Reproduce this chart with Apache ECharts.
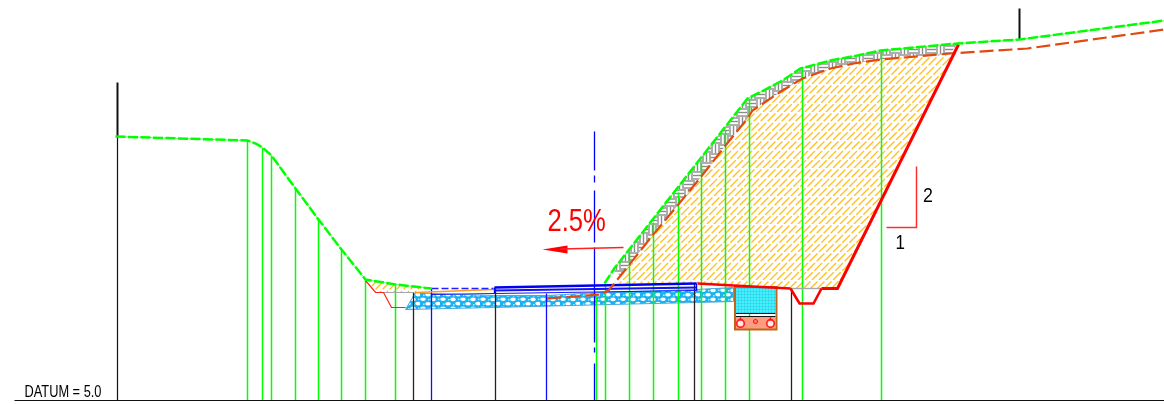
<!DOCTYPE html>
<html><head><meta charset="utf-8">
<style>html,body{margin:0;padding:0;background:#fff}#c{width:1164px;height:404px}</style>
<script src="https://cdn.jsdelivr.net/npm/echarts@6/dist/echarts.min.js"></script>
</head><body><div id="c"></div>
<script>
// Cross-section values: [offset, height above the datum line]
const groundLeft = [[115,264],[247,260],[255,257],[262,253],[271,245],[295,212],[318,181],[341,151],[365,121],[395,116],[431,112]];
const groundRight = [[604,117],[613,131],[747,302],[763,310],[782,320],[800,332],[830,340],[857,345],[880,350],[957,357],[1019,361],[1164,380]];
const stripLine = [[547,102],[600,106],[608,110],[625,131],[652,165],[677,195],[700,223],[725,255],[747,282],[752,290],[782,310],[802,322],[830,332],[853,337],[880,341],[950,347],[1027,352],[1164,371]];
const stripArea = [[612,130],[747,302],[763,310],[782,320],[800,332],[830,340],[857,345],[880,350],[957,357],[950,347],[880,341],[853,337],[830,332],[802,322],[782,310],[752,290],[747,282],[725,255],[700,223],[677,195],[652,165],[625,131],[620,125]];
const fillArea = [[615,117],[625,131],[652,165],[677,195],[700,223],[725,255],[747,282],[752,290],[782,310],[802,322],[830,332],[853,337],[880,341],[953,347],[837,112],[790,112],[733,115],[697,117]];
const fillAreaLeft = [[367,120],[431,112],[415,108],[376,108]];
const cutSlope = [[958,356],[837,112],[821,112],[813,97],[799,97],[790,112]];
const roadEdge = [[697,117],[733,115],[790,112]];
const ditchLeft = [[365,120],[375,108],[383,108],[391,93],[405,93]];
const ditchTopLeft = [[375,108],[413,108]];
const ditchTopRight = [[790,112],[821,112]];
const subbase = [[405,91],[415,108],[431,107],[493,105],[547,105],[600,108],[696,111],[733,113],[733,99],[696,98],[610,96],[493,93]];
const shoulderLine = [[415,108],[493,111]];
const shoulderDash = [[431,112],[493,112]];
const pavementTop = [[494,113],[696,117]];
const pavementMid = [[494,110],[696,113]];
const pavementLow = [[431,106],[494,107],[696,110]];
const pavementEnds = [[[494,113],[494,107]],[[696,117],[696,110]]];
const greenStations = [[247,260],[262,253],[271,245],[295,212],[318,181],[341,151],[365,120],[395,115],[596,104],[605,117],[629,148],[653,178],[678,208],[701,237],[725,270],[749,302],[802,333],[881,350]];
const blackStations = [[413,108],[495,112],[694,117],[791,112]];
const blueStations = [[431,112],[546,107]];
const centreX = 594;
const centreSpans = [[269,230],[225,218],[210,158],[153,58],[53,48],[37,0]];
const datumLine = [[14,0],[1164,0]];
const leftPost = [[117,318],[117,264]];
const leftPostLower = [[117,264],[117,0]];
const rightPost = [[1019,392],[1019,361]];
const arrowShaft = [[623,153],[560,151.5]];
const arrowHead = [[542,151],[567,155],[567,147]];
const slopeMark = [[886,173],[916,173],[916,234]];
const ductWater = [[735,113],[775,113],[775,87],[735,87]];
const ductBase = [[735,84],[775,84],[775,71],[735,71]];
const ductFrame = [[734.5,113.5],[776,113.5],[776,71],[734.5,71]];
const ductLines = [[[735,113],[775,113]],[[735,87],[775,87]],[[735,84],[775,84]]];
const pipesLarge = [[740,77],[770,77]];
const pipesSmall = [[755,79]];
const pipeStems = [[[740,83],[740,79]],[[770,83],[770,79]]];
const textRows = [
  {text:'2.5%', x:547, h:178, size:32, sx:0.8, color:'#ff0000'},
  {text:'1', x:895, h:157, size:20, sx:0.85, color:'#000'},
  {text:'2', x:922.5, h:204, size:21, sx:0.85, color:'#000'},
  {text:'DATUM = 5.0', x:24, h:7.5, size:16, sx:0.8, color:'#000'}
];

// Fill patterns
function tile(w,h,draw){const c=document.createElement('canvas');c.width=w;c.height=h;draw(c.getContext('2d'));return {image:c,repeat:'repeat'};}
const hatch = tile(28,28,g=>{g.strokeStyle='#ffbf20';g.lineWidth=1.3;g.setLineDash([11,2.2]);
  for(let k=-28;k<=28;k+=7){g.beginPath();g.moveTo(k,28);g.lineTo(k+28,0);g.stroke();}});
const brick = tile(18,18,g=>{g.fillStyle='#fff';g.fillRect(0,0,18,18);g.strokeStyle='#8c8c8c';g.lineWidth=1.4;
  const L=(a,b,c,d)=>{g.beginPath();g.moveTo(a,b);g.lineTo(c,d);g.stroke();};
  [1,4.5,8].forEach(v=>{L(0,v,9,v);L(9,v+9,18,v+9);L(v,9,v,18);L(v+9,0,v+9,9);});});
const gravel = tile(20,9,g=>{g.fillStyle='#1cb2f0';g.fillRect(0,0,20,9);g.fillStyle='#fff';
  [[3,2.2],[13,2.4],[8,6.8],[18,6.6]].forEach(p=>{g.beginPath();g.ellipse(p[0],p[1],2.8,1.8,0,0,7);g.fill();});
  g.fillStyle='#b8e8ff';[[8,2],[18,1.6],[3,6.5],[13,7]].forEach(p=>g.fillRect(p[0],p[1],1.5,1.5));});
const water = tile(3,3,g=>{g.fillStyle='#2ce8f4';g.fillRect(0,0,3,3);g.fillStyle='#49b8ea';g.fillRect(0,0,1,1);g.fillStyle='#9ff8ff';g.fillRect(1.5,1.5,1,1);});

// Series builders
const line=(data,color,width,type,z)=>({type:'line',data,symbol:'none',silent:true,animation:false,clip:false,z:z||5,
  lineStyle:{color,width,type:type||'solid',cap:'butt',join:'miter'}});
const poly=(pts,fill,z,stroke,lw)=>({type:'custom',coordinateSystem:'cartesian2d',data:pts,encode:{x:0,y:1},silent:true,animation:false,clip:false,z:z||2,
  renderItem:(p,api)=>p.dataIndex===0?{type:'polygon',shape:{points:pts.map(q=>api.coord(q))},style:{fill,stroke:stroke||'none',lineWidth:lw||0}}:null});
const stations=(rows,color,width,z)=>rows.map(r=>line([[r[0],0],[r[0],r[1]]],color,width,'solid',z||3));

const series=[
  poly(fillArea,hatch,2),
  poly(fillAreaLeft,hatch,2),
  poly(stripArea,brick,2),
  poly(subbase,gravel,2,'#49a8e0',1),
  ...stations(greenStations,'#00ff00',1.5,3),
  ...stations(blackStations,'#222',1.3,3),
  ...stations(blueStations,'#1010ff',1.3,3),
  ...centreSpans.map(s=>line([[centreX,s[0]],[centreX,s[1]]],'#0000ff',1.3,'solid',3)),
  poly(ductWater,water,4),
  poly(ductBase,'#ff9c82',4),
  ...ductLines.map(l=>line(l,'#111',1.2,'solid',5)),
  poly(ductFrame,'none',6,'#c0661a',2),
  ...pipeStems.map(l=>line(l,'#ff0000',1.4,'solid',6)),
  {type:'scatter',data:pipesLarge,symbolSize:7.5,silent:true,animation:false,z:7,itemStyle:{color:'#fff',borderColor:'#ff0000',borderWidth:1.8}},
  {type:'scatter',data:pipesSmall,symbolSize:4,silent:true,animation:false,z:7,itemStyle:{color:'#ff8a70',borderColor:'#ff0000',borderWidth:1.2}},
  line(datumLine,'#111',1.2),
  line(leftPost,'#111',2),
  line(leftPostLower,'#111',1.2),
  line(rightPost,'#111',2),
  line(shoulderLine,'#ff9a20',1.5),
  line(shoulderDash,'#2020ff',1.3,[7,3]),
  line(pavementTop,'#0000f0',2.5,'solid',6),
  line(pavementMid,'#1010f0',1.8,'solid',6),
  line(pavementLow,'#1818f0',1.2,'solid',6),
  ...pavementEnds.map(l=>line(l,'#0000f0',1.4,'solid',6)),
  line(ditchTopLeft,'#a8a8a8',1.2),
  line(ditchTopRight,'#a8a8a8',1.4),
  line(ditchLeft,'#ff2020',1.2,'solid',6),
  line(roadEdge,'#ff0000',2.5,'solid',7),
  line(cutSlope.slice(0,3),'#ff0000',3,'solid',7),
  line(cutSlope.slice(2),'#ff0000',2.6,'solid',7),
  line(stripLine,'#e2480f',2.2,[14,5],6),
  line(groundLeft,'#66ff66',1,'solid',8),
  line(groundLeft,'#00ff00',2.5,[10,2.5],8),
  line(groundRight,'#66ff66',1,'solid',8),
  line(groundRight,'#00ff00',2.5,[10,2.5],8),
  line(arrowShaft,'#ff2020',1.4,'solid',6),
  poly(arrowHead,'#ff0000',6),
  line(slopeMark,'#ff3030',1.5,'solid',6),
  {type:'custom',coordinateSystem:'cartesian2d',data:textRows.map(t=>[t.x,t.h]),encode:{x:0,y:1},silent:true,animation:false,clip:false,z:9,
   renderItem:(p,api)=>{const t=textRows[p.dataIndex];const c=api.coord([t.x,t.h]);
     return {type:'text',x:c[0],y:c[1],scaleX:t.sx,style:{text:t.text,fill:t.color,font:t.size+'px "Liberation Sans",Arial,sans-serif',textAlign:'left',textVerticalAlign:'middle'}};}}
];

const chart=echarts.init(document.getElementById('c'),null,{renderer:'canvas'});
chart.setOption({animation:false,backgroundColor:'#fff',
  grid:{left:0,right:0,top:0,bottom:0},
  xAxis:{type:'value',min:-0.5,max:1163.5,show:false},
  yAxis:{type:'value',min:-3.5,max:400.5,show:false},
  tooltip:{show:false},legend:{show:false},series});
</script></body></html>
